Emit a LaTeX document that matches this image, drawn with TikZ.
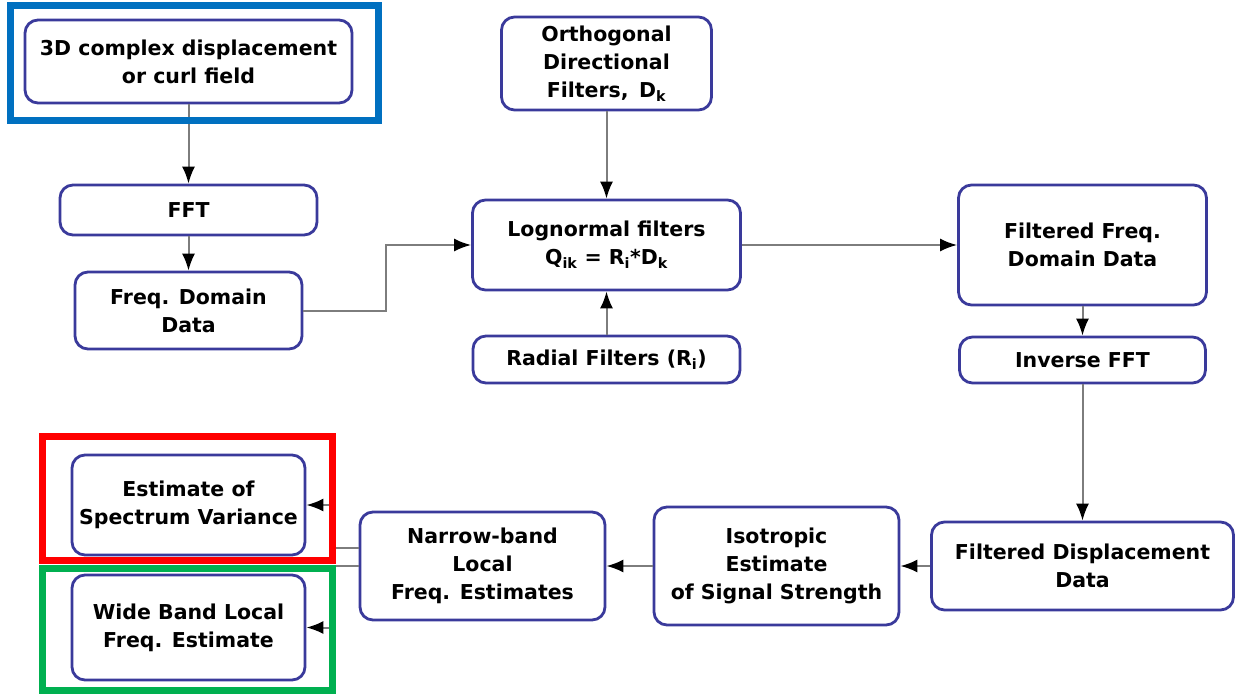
\documentclass[tikz,border=0pt]{standalone}
\usepackage{fontspec}
\setmainfont{DejaVu Sans}
\usetikzlibrary{arrows.meta}
\definecolor{boxline}{RGB}{58,58,155}
\definecolor{frameblue}{RGB}{0,112,192}
\definecolor{framegreen}{RGB}{0,176,80}
\definecolor{linkgray}{RGB}{125,125,125}

\begin{document}
\begin{tikzpicture}[x=1pt,y=-1pt,
  blk/.style={draw=boxline, line width=2.8pt, rounded corners=13pt, fill=white,
    align=center, inner sep=0pt, font=\bfseries\fontsize{20.5}{28}\selectfont},
  link/.style={draw=linkgray, line width=2pt, -{Latex[black,length=17pt,width=13pt]}},
  hilite/.style={line width=7pt}]
  \useasboundingbox (0,0) rectangle (1238,694);

  % left column
  \node[blk, minimum width=327, minimum height=83] (src) at (188.5,61.5) {3D complex displacement\\or curl field};
  \node[blk, minimum width=257, minimum height=50] (fft) at (188.5,210) {FFT};
  \node[blk, minimum width=227, minimum height=77] (freq) at (188.5,310.5) {Freq. Domain\\Data};

  % filter bank
  \node[blk, minimum width=210, minimum height=93] (orth) at (606.5,63.5) {Orthogonal\\Directional\\Filters,\, D\textsubscript{k}};
  \node[blk, minimum width=268, minimum height=90] (logn) at (606.5,245) {Lognormal filters\\Q\textsubscript{ik} = R\textsubscript{i}*D\textsubscript{k}};
  \node[blk, minimum width=267, minimum height=47] (radial) at (606.5,359.5) {Radial Filters (R\textsubscript{i})};

  % right column
  \node[blk, minimum width=248, minimum height=120] (ffd) at (1082.5,245) {Filtered Freq.\\Domain Data};
  \node[blk, minimum width=246, minimum height=46] (ifft) at (1082.5,360) {Inverse FFT};
  \node[blk, minimum width=302, minimum height=88] (fdisp) at (1082.5,566) {Filtered Displacement\\Data};

  % bottom row
  \node[blk, minimum width=245, minimum height=118] (iso) at (776.5,566) {Isotropic\\Estimate\\of Signal Strength};
  \node[blk, minimum width=245, minimum height=108] (narrow) at (482.5,566) {Narrow-band\\Local\\Freq. Estimates};
  \node[blk, minimum width=233, minimum height=100] (var) at (188.5,505) {Estimate of\\Spectrum Variance};
  \node[blk, minimum width=233, minimum height=105] (wide) at (188.5,627.5) {Wide Band Local\\Freq. Estimate};

  % connectors
  \draw[link] (src) -- (fft);
  \draw[link] (fft) -- (freq);
  \draw[link] (freq.east) -- ++(83,0) |- (logn.west);
  \draw[link] (orth) -- (logn);
  \draw[link] (radial) -- (logn);
  \draw[link] (logn) -- (ffd);
  \draw[link] (ffd) -- (ifft);
  \draw[link] (ifft) -- (fdisp);
  \draw[link] (fdisp) -- (iso);
  \draw[link] (iso) -- (narrow);
  \draw[link] ([yshift=18pt]narrow.west) -- ++(-28,0) |- (var.east);
  \draw[link] (narrow.west) -- ++(-28,0) |- (wide.east);

  % highlight frames
  \draw[hilite, frameblue] (10,5) rectangle (378,120);
  \draw[hilite, red] (42,436) rectangle (332,560);
  \draw[hilite, framegreen] (42,568) rectangle (332,690);
\end{tikzpicture}
\end{document}
